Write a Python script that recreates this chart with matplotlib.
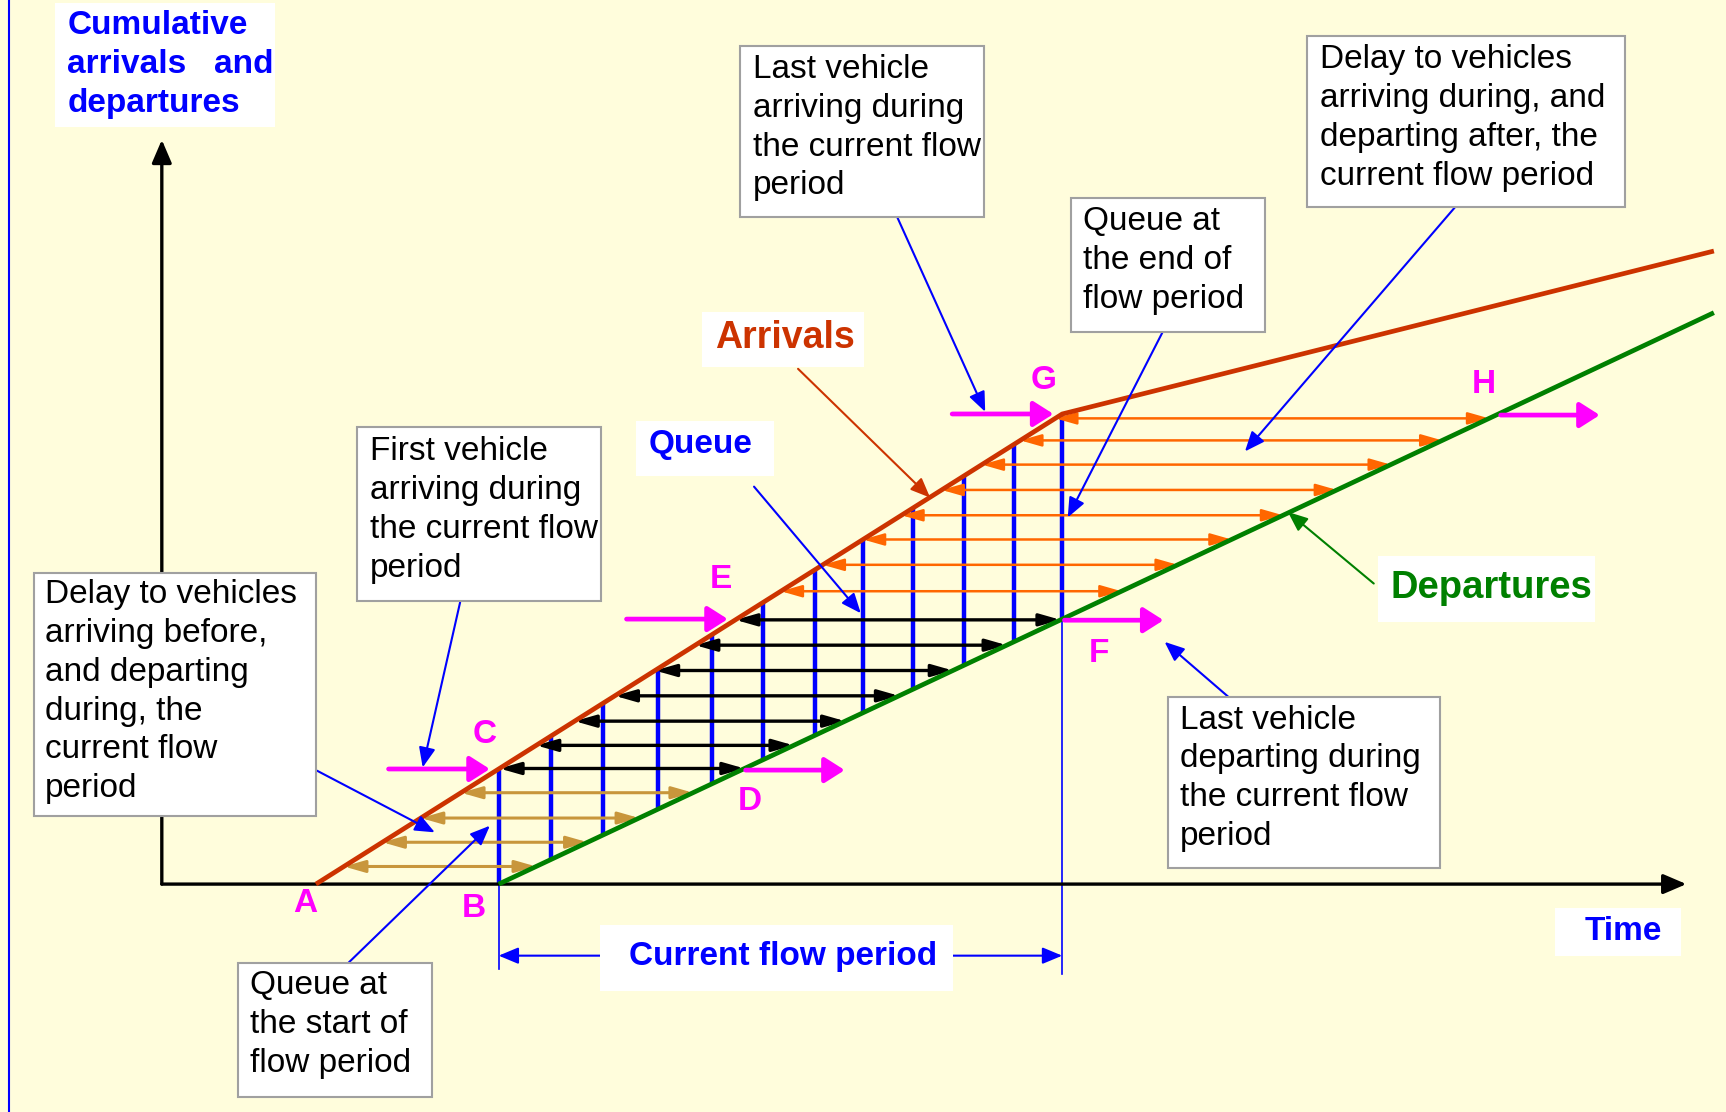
import numpy as np
import matplotlib.pyplot as plt
from matplotlib.patches import Rectangle

plt.rcParams['font.family'] = ['Liberation Sans', 'DejaVu Sans']

# cumulative curves (time, cumulative count) in drawing units
arr_t = [287, 965, 1557]
arr_n = [803, 376, 228]
dep_t = [453, 1557]
dep_n = [803, 284]

# queue lengths drawn at these times
queue_t = [453, 501, 548, 598, 647, 693, 740, 784, 829, 876, 921, 965]

# delay levels (vehicle number) for the three groups of vehicles
tan_levels = [787, 765, 743, 720]
black_levels = [698, 677, 655, 632, 609, 586, 563]
orange_levels = [537, 513, 490, 468, 445, 422, 400, 380]

t0, t1 = 453, 965  # current flow period
origin = (147, 803)

BG = '#FFFDDC'
RED = '#CC3300'
GREEN = '#008000'
BLUE = '#0000FF'
ORANGE = '#FF6600'
TAN = '#C8963C'
MAG = '#FF00FF'


def arr_time(n):
    return np.interp(-n, -np.array(arr_n), arr_t)


def dep_time(n):
    return np.interp(-n, -np.array(dep_n), dep_t)


def arrow(ax, tail, tip, color, lw=1.5, style='-|>,head_length=0.6,head_width=0.25', ms=20):
    ax.annotate('', xy=tip, xytext=tail,
                arrowprops=dict(arrowstyle=style, color=color, lw=lw,
                                shrinkA=0, shrinkB=0, mutation_scale=ms))


fig = plt.figure(figsize=(17.26, 11.12), dpi=100, facecolor=BG)
ax = fig.add_axes([0, 0, 1, 1])
ax.set_xlim(0, 1568)
ax.set_ylim(1010, 0)
ax.axis('off')
ax.set_facecolor(BG)

# left border
ax.plot([8, 8], [0, 1010], color=BLUE, lw=1.5)

# axes
arrow(ax, origin, (origin[0], 127), 'black', lw=2.4, style='-|>,head_length=0.7,head_width=0.3')
arrow(ax, origin, (1532, origin[1]), 'black', lw=2.4, style='-|>,head_length=0.7,head_width=0.3')

# thin verticals marking flow period
ax.plot([t0, t0], [803, 880], color=BLUE, lw=1.2)
ax.plot([t1, t1], [376, 885], color=BLUE, lw=1.2)

# delay arrows
for levels, col, lw in [(tan_levels, TAN, 2.2), (black_levels, 'black', 2.4), (orange_levels, ORANGE, 1.8)]:
    for n in levels:
        arrow(ax, (arr_time(n), n), (dep_time(n), n), col, lw=lw,
              style='<|-|>,head_length=0.7,head_width=0.2', ms=18)

# queue lengths
for t in queue_t:
    ax.plot([t, t], [np.interp(t, arr_t, arr_n), np.interp(t, dep_t, dep_n)],
            color=BLUE, lw=3.2, solid_capstyle='butt')

# curves
ax.plot(arr_t, arr_n, color=RED, lw=3.4, solid_capstyle='butt', zorder=3)
ax.plot(dep_t, dep_n, color=GREEN, lw=3.4, solid_capstyle='butt', zorder=3)

# magenta marker arrows
C = (t0, np.interp(t0, arr_t, arr_n))
D = (dep_time(C[1]), C[1])
F = (t1, np.interp(t1, dep_t, dep_n))
E = (arr_time(F[1]), F[1])
G = (t1, np.interp(t1, arr_t, arr_n))
H = (dep_time(G[1]), G[1])
mstyle = '-|>,head_length=0.55,head_width=0.35'
for p in [C, E, G]:
    arrow(ax, (p[0] - 100, p[1]), (p[0] - 8, p[1]), MAG, lw=3.4, style=mstyle, ms=22)
for p in [D, F, H]:
    arrow(ax, (p[0] + 2, p[1] + 1), (p[0] + 92, p[1] + 1), MAG, lw=3.4, style=mstyle, ms=22)

for lab, x, y in [('A', 277, 821), ('B', 430, 825), ('C', 440, 667), ('D', 681, 728),
                  ('E', 655, 526), ('F', 998, 594), ('G', 948, 346), ('H', 1348, 349)]:
    ax.text(x, y, lab, color=MAG, fontsize=24, fontweight='bold', ha='center', va='center')


def box(x0, y0, x1, y1, edge=True):
    ax.add_patch(Rectangle((x0, y0), x1 - x0, y1 - y0, facecolor='white',
                           edgecolor='#A0A0A0' if edge else 'none', lw=1.5, zorder=4))


def lines(x, y0, txt, dy=35.3, color='black', weight='normal', fs=24):
    for i, s in enumerate(txt):
        ax.text(x, y0 + i * dy, s, fontsize=fs, color=color, fontweight=weight,
                ha='left', va='center', zorder=5)


# text boxes
box(50, 3, 250, 115, edge=False)
lines(61, 23, ['Cumulative', 'arrivals   and', 'departures'], color=BLUE, weight='bold')

box(672, 42, 894, 197)
lines(684, 63, ['Last vehicle', 'arriving during', 'the current flow', 'period'])
arrow(ax, (815, 197), (895, 374), BLUE)

box(1187, 33, 1476, 188)
lines(1199, 54, ['Delay to vehicles', 'arriving during, and', 'departing after, the', 'current flow period'])
arrow(ax, (1322, 188), (1131, 410), BLUE)

box(973, 180, 1149, 302)
lines(984, 201, ['Queue at', 'the end of', 'flow period'])
arrow(ax, (1057, 300), (970, 470), BLUE)

box(638, 283, 785, 333, edge=False)
ax.text(713, 307, 'Arrivals', color=RED, fontsize=27, fontweight='bold', ha='center', va='center', zorder=5)
arrow(ax, (725, 335), (845, 452), RED, lw=1.5)

box(578, 382, 703, 432, edge=False)
ax.text(636, 404, 'Queue', color=BLUE, fontsize=24, fontweight='bold', ha='center', va='center', zorder=5)
arrow(ax, (685, 442), (782, 557), BLUE)

box(324, 388, 546, 546)
lines(336, 410, ['First vehicle', 'arriving during', 'the current flow', 'period'])
arrow(ax, (418, 547), (384, 697), BLUE)

box(31, 520, 287, 741)
lines(41, 540, ['Delay to vehicles', 'arriving before,', 'and departing', 'during, the',
                'current flow', 'period'])
arrow(ax, (288, 700), (395, 756), BLUE)

box(1252, 505, 1449, 565, edge=False)
ax.text(1355, 534, 'Departures', color=GREEN, fontsize=27.5, fontweight='bold', ha='center', va='center', zorder=5)
arrow(ax, (1248, 530), (1170, 465), GREEN)

box(1061, 633, 1308, 788)
lines(1072, 654, ['Last vehicle', 'departing during', 'the current flow', 'period'])
arrow(ax, (1116, 633), (1058, 583), BLUE)

box(216, 875, 392, 996)
lines(227, 895, ['Queue at', 'the start of', 'flow period'])
arrow(ax, (316, 875), (445, 750), BLUE)

box(545, 840, 866, 900, edge=False)
ax.text(711, 869, 'Current flow period', color=BLUE, fontsize=24, fontweight='bold', ha='center', va='center', zorder=5)
arrow(ax, (545, 868), (t0, 868), BLUE)
arrow(ax, (866, 868), (t1, 868), BLUE)

box(1413, 825, 1527, 868, edge=False)
ax.text(1475, 846, 'Time', color=BLUE, fontsize=24, fontweight='bold', ha='center', va='center', zorder=5)

fig.savefig('out.png', dpi=100, facecolor=BG)
